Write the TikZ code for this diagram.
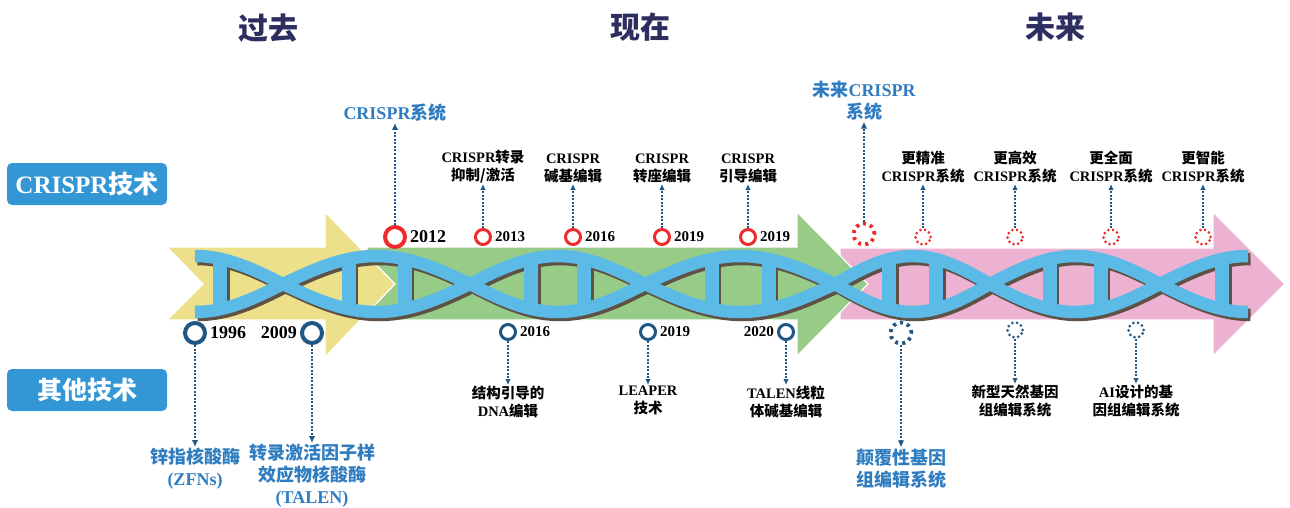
\documentclass[tikz,border=0pt]{standalone}
\usepackage{fontspec}
\setmainfont{Liberation Serif}
\newfontfamily\zhfont{Noto Sans CJK SC}
\newcommand\zh[1]{{\zhfont#1}}
\usetikzlibrary{positioning,arrows.meta}
\definecolor{eranavy}{HTML}{2B2E5E}
\definecolor{tabblue}{HTML}{3497D5}
\definecolor{pastfill}{HTML}{EDE08B}
\definecolor{nowfill}{HTML}{97CB88}
\definecolor{nextfill}{HTML}{EDB1D2}
\definecolor{helixblue}{HTML}{5BBAE6}
\definecolor{helixshade}{HTML}{5E5246}
\definecolor{ringred}{HTML}{EE2A2A}
\definecolor{ringblue}{HTML}{1F5683}
\definecolor{keyblue}{HTML}{2F7DC0}
\newcommand\dnahelix{%
	\draw (195,256) cos (283,284) sin (376.5,312) cos (470,284) sin (557.5,256) cos (645,284) sin (740,312) cos (835,284) sin (912.5,256) cos (990,284) sin (1075,312) cos (1160,284) sin (1248,256);
	\draw (195,312) cos (283,284) sin (376.5,256) cos (470,284) sin (557.5,312) cos (645,284) sin (740,256) cos (835,284) sin (912.5,312) cos (990,284) sin (1075,256) cos (1160,284) sin (1248,312);
	\foreach \x in {220,348.5,404.5,531,584,711.5,768.5,889,936,1049.5,1100.5,1222}
		\fill (\x-7,258) rectangle (\x+7,310);
}
\begin{document}
\begin{tikzpicture}[
				x=1pt, y=-1pt,
				every node/.style={inner sep=1pt, font=\bfseries},
				era/.style={text=eranavy, font=\zhfont\bfseries\fontsize{30}{30}\selectfont},
				catbox/.style={fill=tabblue, text=white, rounded corners=5pt, minimum width=160pt, minimum height=42pt, font=\bfseries\fontsize{25}{25}\selectfont},
				bigring/.style={circle, draw=#1, line width=4pt, minimum size=20pt, inner sep=0pt},
				smallring/.style={circle, draw=#1, line width=3pt, minimum size=15pt, inner sep=0pt},
				bigdotring/.style={circle, draw=#1, line width=3.8pt, dash pattern=on 3pt off 4.2pt, minimum size=21pt, inner sep=0pt},
				smalldotring/.style={circle, draw=#1, line width=3pt, line cap=round, dash pattern=on 0pt off 4.8pt, minimum size=15pt, inner sep=0pt},
				bigyear/.style={font=\bfseries\fontsize{18}{18}\selectfont},
				smallyear/.style={font=\bfseries\fontsize{15}{15}\selectfont},
				note/.style={align=center, font=\bfseries\fontsize{14.5}{18}\selectfont},
				keynote/.style={align=center, text=keyblue, font=\bfseries\fontsize{18}{22}\selectfont},
				link/.style={draw=ringblue, line width=2pt, dash pattern=on 2pt off 1.5pt, -{Latex[length=6pt,width=5.5pt]}},
				biglink/.style={link, line width=2.6pt, -{Latex[length=7pt,width=6.5pt]}}
			]
			\useasboundingbox (0,0) rectangle (1290,508);
			\node[era] (past) at (268,28) {过去};
			\node[era] (now) at (640,27) {现在};
			\node[era] (next) at (1055,27) {未来};
			\node[catbox] (crisprtech) at (87,184) {CRISPR\zh{技术}};
			\node[catbox] (othertech) at (87,390) {\zh{其他技术}};

			\fill[nextfill, draw=white, line width=1.2pt] (840,248) -- (1213,248) -- (1213,212) -- (1285,284) -- (1213,356) -- (1213,320) -- (840,320) -- cycle;
			\fill[nowfill, draw=white, line width=1.2pt] (367,247) -- (797,247) -- (797,212) -- (868,284) -- (797,356) -- (797,320) -- (367,320) -- cycle;
			\fill[pastfill, draw=white, line width=1.2pt] (167,247) -- (325,247) -- (325,212) -- (395,284) -- (325,357) -- (325,320) -- (167,320) -- (203,284) -- cycle;
			\begin{scope}[shift={(2.5,3)}, color=helixshade, line width=12.5pt]
				\dnahelix
			\end{scope}
			\begin{scope}[color=helixblue, line width=12.5pt]
				\dnahelix
			\end{scope}

			\node[bigring=ringred] (r12) at (395,237) {};
			\node[bigyear, right=2pt of r12] (y12) {2012};
			\node[keynote, above=102pt of r12] (k12) {CRISPR\zh{系统}};
			\draw[biglink] (r12) -- (k12);
			\node[smallring=ringred] (r13) at (483,237) {};
			\node[smallyear, right=2pt of r13] (y13) {2013};
			\node[note, above=44pt of r13] (n13) {CRISPR\zh{转录}\\\zh{抑制/激活}};
			\draw[link] (r13) -- (n13);
			\node[smallring=ringred] (r16) at (573,237) {};
			\node[smallyear, right=2pt of r16] (y16) {2016};
			\node[note, above=44pt of r16] (n16) {CRISPR\\\zh{碱基编辑}};
			\draw[link] (r16) -- (n16);
			\node[smallring=ringred] (r19a) at (662,237) {};
			\node[smallyear, right=2pt of r19a] (y19a) {2019};
			\node[note, above=44pt of r19a] (n19a) {CRISPR\\\zh{转座编辑}};
			\draw[link] (r19a) -- (n19a);
			\node[smallring=ringred] (r19b) at (748,237) {};
			\node[smallyear, right=2pt of r19b] (y19b) {2019};
			\node[note, above=44pt of r19b] (n19b) {CRISPR\\\zh{引导编辑}};
			\draw[link] (r19b) -- (n19b);

			\node[bigring=ringblue] (b96) at (195,333) {};
			\node[bigyear, right=2pt of b96] (y96) {1996};
			\node[keynote, below=102pt of b96] (k96) {\zh{锌指核酸酶}\\(ZFNs)};
			\draw[biglink] (b96) -- (k96);
			\node[bigring=ringblue] (b09) at (312,333) {};
			\node[bigyear, left=2pt of b09] (y09) {2009};
			\node[keynote, below=98pt of b09] (k09) {\zh{转录激活因子样}\\\zh{效应物核酸酶}\\(TALEN)};
			\draw[biglink] (b09) -- (k09);
			\node[smallring=ringblue] (b16) at (508,332) {};
			\node[smallyear, right=2pt of b16] (z16) {2016};
			\node[note, below=44pt of b16] (m16) {\zh{结构引导的}\\DNA\zh{编辑}};
			\draw[link] (b16) -- (m16);
			\node[smallring=ringblue] (b19) at (648,332) {};
			\node[smallyear, right=2pt of b19] (z19) {2019};
			\node[note, below=44pt of b19] (m19) {LEAPER\\\zh{技术}};
			\draw[link] (b19) -- (m19);
			\node[smallring=ringblue] (b20) at (786,332) {};
			\node[smallyear, left=2pt of b20] (z20) {2020};
			\node[note, below=44pt of b20] (m20) {TALEN\zh{线粒}\\\zh{体碱基编辑}};
			\draw[link] (b20) -- (m20);

			\node[bigdotring=ringred] (f1) at (864,234) {};
			\node[keynote, above=100pt of f1] (g1) {\zh{未来}CRISPR\\\zh{系统}};
			\draw[biglink] (f1) -- (g1);
			\node[smalldotring=ringred] (f2) at (923,237) {};
			\node[note, above=44pt of f2] (g2) {\zh{更精准}\\CRISPR\zh{系统}};
			\draw[link] (f2) -- (g2);
			\node[smalldotring=ringred] (f3) at (1015,237) {};
			\node[note, above=44pt of f3] (g3) {\zh{更高效}\\CRISPR\zh{系统}};
			\draw[link] (f3) -- (g3);
			\node[smalldotring=ringred] (f4) at (1111,237) {};
			\node[note, above=44pt of f4] (g4) {\zh{更全面}\\CRISPR\zh{系统}};
			\draw[link] (f4) -- (g4);
			\node[smalldotring=ringred] (f5) at (1203,237) {};
			\node[note, above=44pt of f5] (g5) {\zh{更智能}\\CRISPR\zh{系统}};
			\draw[link] (f5) -- (g5);

			\node[bigdotring=ringblue] (h1) at (901,333) {};
			\node[keynote, below=102pt of h1] (j1) {\zh{颠覆性基因}\\\zh{组编辑系统}};
			\draw[biglink] (h1) -- (j1);
			\node[smalldotring=ringblue] (h2) at (1015,330) {};
			\node[note, below=45pt of h2] (j2) {\zh{新型天然基因}\\\zh{组编辑系统}};
			\draw[link] (h2) -- (j2);
			\node[smalldotring=ringblue] (h3) at (1136,330) {};
			\node[note, below=45pt of h3] (j3) {AI\zh{设计的基}\\\zh{因组编辑系统}};
			\draw[link] (h3) -- (j3);
		\end{tikzpicture}
\end{document}
